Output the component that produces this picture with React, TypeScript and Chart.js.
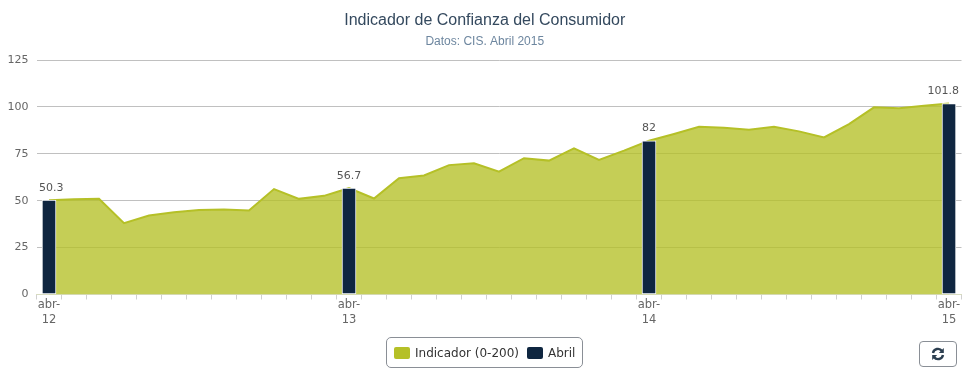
import React, { useEffect, useRef } from "react";
import { Chart, registerables } from "chart.js";

Chart.register(...registerables);

const months = ["abr","may","jun","jul","ago","sep","oct","nov","dic","ene","feb","mar"];
const categories: string[] = [];
for (let i = 0; i <= 36; i++) {
  const yy = 12 + Math.floor((i + 3) / 12);
  categories.push(`${months[i % 12]}-${yy}`);
}
const indicador = [50.3,50.8,51,38,42.1,43.9,45.1,45.3,44.8,56.2,51,52.6,56.7,51.2,62,63.5,69,70,65.5,72.7,71.4,77.9,71.8,76.7,82,85.6,89.5,88.9,87.9,89.5,87,83.8,90.9,99.8,99.3,100.7,101.8];
const abrilValues = [50.3,null,null,null,null,null,null,null,null,null,null,null,56.7,null,null,null,null,null,null,null,null,null,null,null,82,null,null,null,null,null,null,null,null,null,null,null,101.8];
const yTicks = [0,25,50,75,100,125];
const title = "Indicador de Confianza del Consumidor";
const subtitle = "Datos: CIS. Abril 2015";
const seriesNames = ["Indicador (0-200)", "Abril"];
const seriesColors = ["#b5c027", "#0f2640"];

const axisFont = "'DejaVu Sans'";

const barLabels = {
  id: "barLabels",
  afterDatasetsDraw(chart: any) {
    const { ctx, width } = chart;
    const meta = chart.getDatasetMeta(1);
    ctx.save();
    ctx.font = `11px ${axisFont}`;
    ctx.fillStyle = "#555";
    ctx.textAlign = "center";
    ctx.textBaseline = "middle";
    meta.data.forEach((el: any, i: number) => {
      const v = abrilValues[i];
      if (v == null) return;
      const text = String(v);
      const half = ctx.measureText(text).width / 2;
      const cx = Math.min(Math.max(el.x, 39 + half), width - 16 - half);
      ctx.fillText(text, cx, el.y - 12.5);
    });
    ctx.restore();
  },
};

export default function App() {
  const ref = useRef<HTMLCanvasElement>(null);
  useEffect(() => {
    const chart = new Chart(ref.current!, {
      type: "bar",
      data: {
        labels: categories,
        datasets: [
          {
            type: "line",
            label: seriesNames[0],
            data: indicador,
            borderColor: seriesColors[0],
            borderWidth: 2,
            backgroundColor: "rgba(181,192,39,0.78)",
            fill: "origin",
            pointRadius: 0,
            tension: 0,
            order: 2,
          },
          {
            type: "bar",
            label: seriesNames[1],
            data: abrilValues,
            backgroundColor: seriesColors[1],
            borderColor: "#ffffff",
            borderWidth: 1,
            borderSkipped: false,
            barThickness: 14,
            grouped: false,
            order: 1,
          },
        ] as any,
      },
      plugins: [barLabels],
      options: {
        responsive: false,
        animation: false,
        layout: { padding: { left: 8, right: 13.5, top: 0, bottom: 0 } },
        plugins: {
          legend: { display: false },
          tooltip: { enabled: false },
          title: {
            display: true,
            text: title,
            color: "#34495e",
            font: { family: "'Liberation Sans'", size: 16, weight: "normal" },
            padding: { top: 11, bottom: 4.5 },
          },
          subtitle: {
            display: true,
            text: subtitle,
            color: "#6d869f",
            font: { family: "'Liberation Sans'", size: 12, weight: "normal" },
            padding: { top: 0, bottom: 11 },
          },
        },
        scales: {
          x: {
            offset: true,
            border: { color: "#d8dcc0", width: 1 },
            grid: { offset: true, drawOnChartArea: false, drawTicks: true, tickLength: 5, color: "#d0d0d0" },
            ticks: {
              autoSkip: false,
              maxRotation: 0,
              minRotation: 0,
              padding: -1,
              color: "#666",
              font: { family: axisFont, size: 11.5, lineHeight: 1.22 },
              callback: (_v: any, i: number) => (i % 12 === 0 ? [categories[i].split("-")[0] + "-", categories[i].split("-")[1]] : ""),
            },
            afterFit: (s: any) => { s.height = 81.5; },
          },
          y: {
            min: 0,
            max: 125,
            border: { display: false },
            grid: { color: "#c0c0c0", drawTicks: false },
            afterBuildTicks: (s: any) => { s.ticks = yTicks.map((value) => ({ value })); },
            ticks: {
              padding: 8,
              color: "#666",
              font: { family: axisFont, size: 11 },
            },
            afterFit: (s: any) => { s.width = 28.5; },
          },
        },
      },
    });
    return () => chart.destroy();
  }, []);

  const swatch = (c: string): React.CSSProperties => ({
    display: "inline-block", width: 16, height: 12, borderRadius: 2, background: c, marginRight: 5,
  });

  return (
    <div style={{ position: "fixed", left: 0, top: 0, width: 975, height: 376, background: "#fff", overflow: "hidden" }}>
      <canvas ref={ref} width={975} height={376} style={{ position: "absolute", left: 0, top: 0, display: "block" }} />
      <div style={{
        position: "absolute", left: 386, top: 337, width: 188, height: 29, border: "1px solid #8a8f96", borderRadius: 5,
        display: "flex", alignItems: "center", paddingLeft: 7, boxSizing: "content-box",
        font: `12px ${axisFont}`, color: "#333", whiteSpace: "nowrap",
      }}>
        <span style={swatch(seriesColors[0])} />
        <span style={{ marginRight: 8 }}>{seriesNames[0]}</span>
        <span style={swatch(seriesColors[1])} />
        <span>{seriesNames[1]}</span>
      </div>
      <div style={{
        position: "absolute", left: 919, top: 341, width: 36, height: 24, border: "1px solid #8a8f96", borderRadius: 4,
        display: "flex", alignItems: "center", justifyContent: "center",
      }}>
        <svg width="14" height="14" viewBox="0 0 14 14">
          <path d="M2 6 A5 5 0 0 1 11 4" fill="none" stroke="#2c3e50" strokeWidth="2.4" />
          <path d="M12.8 1 L12.8 6 L7.8 6 Z" fill="#2c3e50" />
          <path d="M12 8 A5 5 0 0 1 3 10" fill="none" stroke="#2c3e50" strokeWidth="2.4" />
          <path d="M1.2 13 L1.2 8 L6.2 8 Z" fill="#2c3e50" />
        </svg>
      </div>
    </div>
  );
}
